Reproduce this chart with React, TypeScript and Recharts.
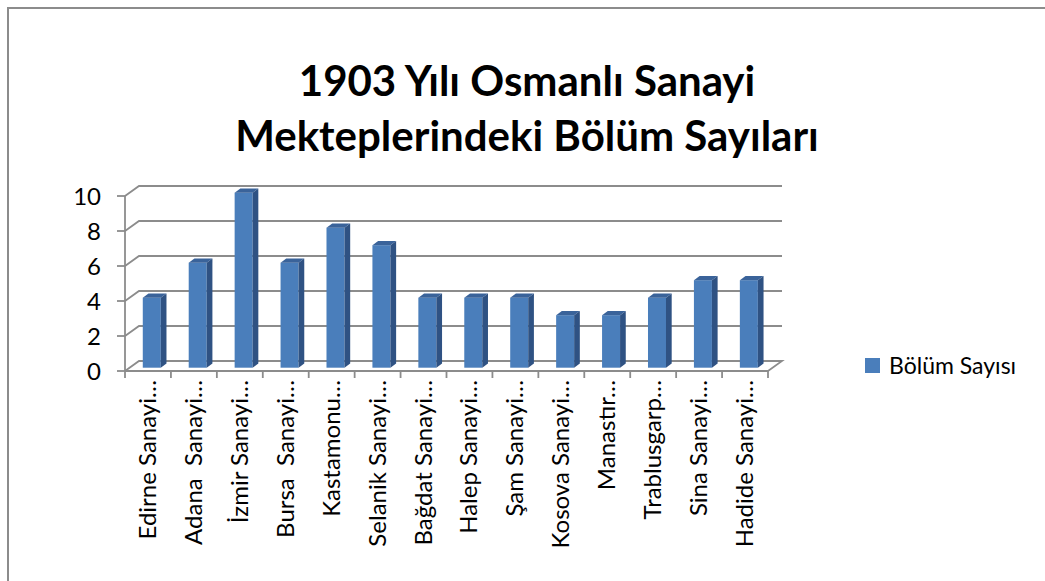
import { Bar, BarChart, CartesianGrid, XAxis, YAxis } from 'recharts'

const categories = [
  'Edirne Sanayi…',
  'Adana  Sanayi…',
  'İzmir Sanayi…',
  'Bursa  Sanayi…',
  'Kastamonu…',
  'Selanik Sanayi…',
  'Bağdat Sanayi…',
  'Halep Sanayi…',
  'Şam Sanayi…',
  'Kosova Sanayi…',
  'Manastır…',
  'Trablusgarp…',
  'Sina Sanayi…',
  'Hadide Sanayi…',
]
const bolumSayisi = [4, 6, 10, 6, 8, 7, 4, 4, 4, 3, 3, 4, 5, 5]
const yTicks = [0, 2, 4, 6, 8, 10]
const seriesName = 'Bölüm Sayısı'
const titleLines = ['1903 Yılı Osmanlı Sanayi', 'Mekteplerindeki Bölüm Sayıları']

const data = categories.map((name, i) => ({ name, value: bolumSayisi[i] }))

const W = 1045
const H = 581
const PLOT_LEFT = 125
const PLOT_RIGHT = 768
const PLOT_TOP = 196
const PLOT_BOTTOM = 371
const DEPTH_X = 14
const DEPTH_Y = -10
const Y_AXIS_W = 60
const X_AXIS_H = 180
const GRID = '#8c8c8c'
const FONT = 'Lato, "Open Sans", sans-serif'

// front face sits a bit into the depth, like Excel's 3D column
function Column3D(props: any) {
  const { x, y, width, height } = props
  if (!height) return null
  const fx = x + 4
  const fy = y - 3.3
  const sx = 5.7
  const sy = -4.3
  return (
    <g>
      <rect x={fx} y={fy} width={width} height={height} fill="#4A7EBB" />
      <polygon
        points={`${fx},${fy} ${fx + sx},${fy + sy} ${fx + width + sx},${fy + sy} ${fx + width},${fy}`}
        fill="#3A639A"
      />
      <polygon
        points={`${fx + width},${fy} ${fx + width + sx},${fy + sy} ${fx + width + sx},${fy + height + sy} ${fx + width},${fy + height}`}
        fill="#2F5283"
      />
    </g>
  )
}

function WallLine(props: any) {
  const { x1, y1, x2, y, height } = props
  const floor = Math.abs(y1 - (y + height)) < 0.5
  let d = `M${x1},${y1} L${x1 + DEPTH_X},${y1 + DEPTH_Y} L${x2 + DEPTH_X},${y1 + DEPTH_Y}`
  if (floor) d += ` L${x2},${y1}`
  return <path key={props.key} d={d} fill="none" stroke={GRID} strokeWidth={1.8} />
}

function CategoryTick(props: any) {
  const { x, payload, index } = props
  const band = (PLOT_RIGHT - PLOT_LEFT) / categories.length
  const left = x - band / 2
  return (
    <g>
      <line x1={left} y1={PLOT_BOTTOM} x2={left} y2={PLOT_BOTTOM + 7} stroke={GRID} strokeWidth={1.8} />
      {index === categories.length - 1 && (
        <line x1={left + band} y1={PLOT_BOTTOM} x2={left + band} y2={PLOT_BOTTOM + 7} stroke={GRID} strokeWidth={1.8} />
      )}
      <text
        transform={`translate(${x + 8},${PLOT_BOTTOM + 9}) rotate(-90)`}
        textAnchor="end"
        fontSize={24}
        fontFamily={FONT}
        fill="#000"
        style={{ whiteSpace: 'pre' }}
      >
        {payload.value}
      </text>
    </g>
  )
}

export default function App() {
  return (
    <div style={{ position: 'fixed', left: 0, top: 0, width: W, height: H, background: '#fff', overflow: 'hidden' }}>
      <div
        style={{
          position: 'absolute',
          left: 7,
          top: 7,
          width: W,
          height: H,
          borderTop: `2px solid ${GRID}`,
          borderLeft: `2px solid ${GRID}`,
        }}
      />
      <div
        style={{
          position: 'absolute',
          left: 0,
          top: 53,
          width: 1054,
          textAlign: 'center',
          fontFamily: FONT,
          fontWeight: 700,
          fontSize: 42,
          lineHeight: '55px',
          color: '#000',
        }}
      >
        {titleLines.map((t) => (
          <div key={t}>{t}</div>
        ))}
      </div>
      <div style={{ position: 'absolute', left: 0, top: 0 }}>
        <BarChart
          width={W}
          height={H}
          data={data}
          barCategoryGap="30%"
          margin={{
            top: PLOT_TOP,
            right: W - PLOT_RIGHT,
            bottom: H - PLOT_BOTTOM - X_AXIS_H,
            left: PLOT_LEFT - Y_AXIS_W,
          }}
        >
          <CartesianGrid vertical={false} horizontal={WallLine} />
          <XAxis
            dataKey="name"
            height={X_AXIS_H}
            interval={0}
            tickLine={false}
            axisLine={{ stroke: GRID, strokeWidth: 1.8 }}
            tick={<CategoryTick />}
          />
          <YAxis
            width={Y_AXIS_W}
            domain={[0, 10]}
            ticks={yTicks}
            interval={0}
            tickSize={8}
            tickMargin={16}
            axisLine={{ stroke: GRID, strokeWidth: 1.8 }}
            tickLine={{ stroke: GRID, strokeWidth: 1.8 }}
            tick={{ fill: '#000', fontSize: 24, fontFamily: FONT }}
          />
          <Bar dataKey="value" name={seriesName} shape={<Column3D />} isAnimationActive={false} />
        </BarChart>
      </div>
      <div
        style={{
          position: 'absolute',
          left: 865,
          top: 351,
          display: 'flex',
          alignItems: 'center',
          fontFamily: FONT,
          fontSize: 23,
          color: '#000',
        }}
      >
        <span style={{ width: 15, height: 15, background: '#4A7EBB', display: 'inline-block', marginRight: 9 }} />
        {seriesName}
      </div>
    </div>
  )
}
